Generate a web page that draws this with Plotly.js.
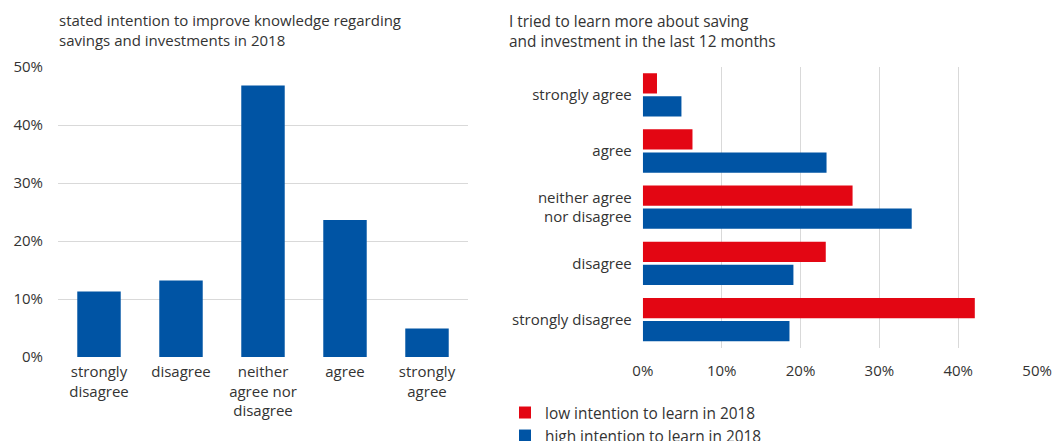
<!DOCTYPE html>
<html>
<head>
<meta charset="utf-8">
<script src="https://cdn.plot.ly/plotly-3.0.1.min.js"></script>
<style>html,body{margin:0;padding:0;background:#fff;}#chart{width:1053px;height:441px;}</style>
</head>
<body>
<div id="chart"></div>
<script>
// Left chart: stated intention to improve knowledge (2018)
const leftCategories = ['strongly<br>disagree', 'disagree', 'neither<br>agree nor<br>disagree', 'agree', 'strongly<br>agree'];
const leftValues = [11.3, 13.2, 46.8, 23.6, 4.9];

// Right chart: tried to learn more in the last 12 months
const rightCategories = ['strongly agree', 'agree', 'neither agree<br>nor disagree', 'disagree', 'strongly disagree'];
const lowIntention = [1.8, 6.3, 26.6, 23.2, 42.1];
const highIntention = [4.9, 23.3, 34.1, 19.1, 18.6];

const seriesNames = ['low intention to learn in 2018', 'high intention to learn in 2018'];
const leftTitle = 'stated intention to improve knowledge regarding<br>savings and investments in 2018';
const rightTitle = 'I tried to learn more about saving<br>and investment in the last 12 months';
const pctTicks = [0, 10, 20, 30, 40, 50];
const pctTickText = ['0%', '10%', '20%', '30%', '40%', '50%'];

const BLUE = '#0054A4';
const RED = '#E30613';
const FONT = 'Open Sans, sans-serif';
const TXT = '#333333';
const GRID = '#d9d9d9';

const traces = [
  {
    type: 'bar', x: leftCategories, y: leftValues, xaxis: 'x', yaxis: 'y',
    marker: {color: BLUE}, width: 0.53, showlegend: false, hoverinfo: 'skip'
  },
  {
    type: 'bar', orientation: 'h', x: lowIntention, y: rightCategories, xaxis: 'x2', yaxis: 'y2',
    name: seriesNames[0], marker: {color: RED}
  },
  {
    type: 'bar', orientation: 'h', x: highIntention, y: rightCategories, xaxis: 'x2', yaxis: 'y2',
    name: seriesNames[1], marker: {color: BLUE}
  }
];

const layout = {
  width: 1053, height: 441,
  margin: {l: 0, r: 0, t: 0, b: 0, autoexpand: false},
  paper_bgcolor: '#fff', plot_bgcolor: '#fff',
  font: {family: FONT, size: 14, color: TXT},
  barmode: 'group', bargap: 0.18, bargroupgap: 0.12,
  showlegend: true,
  legend: {
    x: 505/1053, y: 1 - 396/441, xanchor: 'left', yanchor: 'top',
    font: {family: FONT, size: 15.4, color: TXT},
    bgcolor: 'rgba(0,0,0,0)', tracegroupgap: 0, itemwidth: 30
  },
  xaxis: {
    domain: [58/1053, 468/1053], anchor: 'y',
    showgrid: false, zeroline: false, showline: false, ticks: '',
    ticklabelstandoff: 4,
    tickfont: {size: 15}, fixedrange: true, automargin: false
  },
  yaxis: {
    domain: [84/441, 374/441], anchor: 'x', range: [0, 50],
    tickvals: pctTicks, ticktext: pctTickText,
    showgrid: true, gridcolor: GRID, gridwidth: 1, zeroline: false, showline: false,
    ticks: '', ticklabelstandoff: 14, tickfont: {size: 15}, automargin: false
  },
  xaxis2: {
    domain: [642.8/1053, 1037.1/1053], anchor: 'y2', range: [0, 50],
    tickvals: pctTicks, ticktext: pctTickText,
    showgrid: true, gridcolor: GRID, gridwidth: 1, zeroline: false, showline: false,
    ticks: '', ticklabelstandoff: 12, tickfont: {size: 15}, automargin: false
  },
  yaxis2: {
    domain: [93.3/441, 374.3/441], anchor: 'x2', autorange: 'reversed',
    showgrid: false, zeroline: false, showline: false, ticks: '',
    ticklabelstandoff: 10, tickfont: {size: 15}, automargin: false
  },
  annotations: [
    {text: leftTitle, xref: 'paper', yref: 'paper', x: 57/1053, y: 1 - 8/441,
     xanchor: 'left', yanchor: 'top', align: 'left', showarrow: false,
     font: {family: FONT, size: 15, color: TXT}},
    {text: rightTitle, xref: 'paper', yref: 'paper', x: 507/1053, y: 1 - 9/441,
     xanchor: 'left', yanchor: 'top', align: 'left', showarrow: false,
     font: {family: FONT, size: 15.4, color: TXT}}
  ]
};

Plotly.newPlot('chart', traces, layout, {displayModeBar: false, staticPlot: true});
</script>
</body>
</html>
